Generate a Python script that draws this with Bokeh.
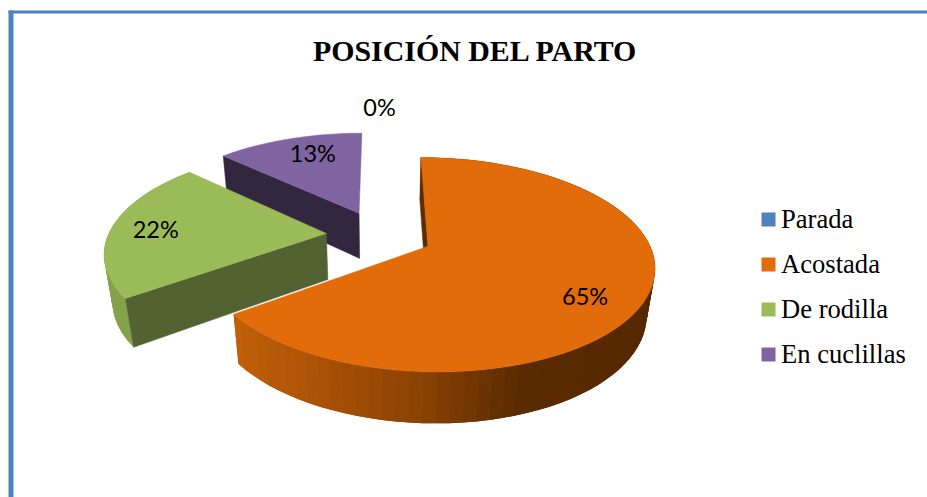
import math
from bokeh.plotting import figure
from bokeh.models import Range1d
from bokeh.core.properties import value
from bokeh.embed import file_html
from bokeh.resources import INLINE

TITLE = "POSICIÓN DEL PARTO"
CATEGORIES = ["Parada", "Acostada", "De rodilla", "En cuclillas"]
VALUES = [0, 65, 22, 13]
LABELS = ["0%", "65%", "22%", "13%"]
COLORS = ["#4F81BD", "#E26B0A", "#9BBB59", "#8064A2"]
WALLS = ["#2A4A70", "#5E2C00", "#526230", "#33263F"]
RIMS = ["#3A6090", "#8A4304", "#84A24B", None]
FRAME = "#4F81BD"

# layout of the projected pie (page pixels)
CX, CY = 379.0, 234.5
RX, RY = 218.0, 100.2
PERSP, EXPLODE = 0.168, 0.245
DEPTH, DEPTH_P = 47.5, 0.03
LABEL_R = [1.35, 0.73, 0.79, 0.78]
LABEL_OFF = [(0, -1.5), (1, 13.5), (-1, 0), (10, -0.5)]
RIM_STOPS = [(237, (0xC0, 0x60, 0x08)), (353, (0xA0, 0x4C, 0x05)), (420, (0x8A, 0x42, 0x04)),
             (520, (0x5A, 0x2B, 0x00)), (660, (0x56, 0x28, 0x00))]


def project(X, Y, lower=False):
    if lower:
        p = 1 / (1 - PERSP * Y + DEPTH_P)
        return CX + RX * X * p, CY + (RY * Y + DEPTH) * p
    p = 1 / (1 - PERSP * Y)
    return CX + RX * X * p, CY + RY * Y * p


def world(angle, r, off):
    a = math.radians(angle)
    return off[0] + r * math.sin(a), off[1] - r * math.cos(a)


def rim_color(x):
    if x <= RIM_STOPS[0][0]:
        c = RIM_STOPS[0][1]
    elif x >= RIM_STOPS[-1][0]:
        c = RIM_STOPS[-1][1]
    else:
        for (x0, c0), (x1, c1) in zip(RIM_STOPS, RIM_STOPS[1:]):
            if x0 <= x <= x1:
                t = (x - x0) / (x1 - x0)
                c = tuple(c0[i] + (c1[i] - c0[i]) * t for i in range(3))
                break
    return "#%02x%02x%02x" % tuple(int(round(v)) for v in c)


p = figure(width=927, height=497, output_backend="svg", toolbar_location=None,
           x_range=Range1d(0, 927), y_range=Range1d(497, 0), min_border=0,
           background_fill_color="white", border_fill_color="white")
p.axis.visible = False
p.grid.visible = False
p.outline_line_color = None

# frame
p.quad(left=[8, 8], right=[13, 927], top=[10, 10], bottom=[497, 13],
       fill_color=FRAME, line_color=None)

title_font = value("Liberation Serif")
p.text(x=[475], y=[49.5], text=[TITLE], text_font=title_font, text_font_size="29.9px",
       text_font_style="bold", text_align="center", text_baseline="middle", text_color="#000000")

# slices
total = sum(VALUES)
spans = []
angle = 0.0
for v in VALUES:
    sweep = 360.0 * v / total
    spans.append((angle, angle + sweep))
    angle += sweep

for i in [3, 2, 1]:
    a0, a1 = spans[i]
    mid = math.radians((a0 + a1) / 2)
    off = (EXPLODE * math.sin(mid), -EXPLODE * math.cos(mid))
    n = max(8, int((a1 - a0) / 3))
    angs = [a0 + (a1 - a0) * j / n for j in range(n + 1)]

    # outer rim: each band overlaps its neighbour, so that no seams show
    if RIMS[i] is not None:
        xs, ys, cols = [], [], []
        for j in range(n):
            s, e = angs[j], angs[min(j + 2, n)]
            ws, we = world(s, 1, off), world(e, 1, off)
            wm = world(angs[j + 1], 1, off)
            ts, tm, te = project(*ws), project(*wm), project(*we)
            ls, lm, le = project(*ws, lower=True), project(*wm, lower=True), project(*we, lower=True)
            xs.append([ts[0], tm[0], te[0], le[0], lm[0], ls[0]])
            ys.append([ts[1], tm[1], te[1], le[1], lm[1], ls[1]])
            cols.append(rim_color((ts[0] + tm[0]) / 2) if i == 1 else RIMS[i])
        p.patches(xs, ys, fill_color=cols, line_color=None)

    # visible radial wall at the slice start
    wa = world(a0, 1, off)
    t0, t1 = project(*off), project(*wa)
    b0, b1 = project(*off, lower=True), project(*wa, lower=True)
    p.patch([t0[0], t1[0], b1[0], b0[0]], [t0[1], t1[1], b1[1], b0[1]],
            fill_color=WALLS[i], line_color=WALLS[i], line_width=0.5)

    # top face
    pts = [project(*off)] + [project(*world(a, 1, off)) for a in angs]
    p.patch([q[0] for q in pts], [q[1] for q in pts],
            fill_color=COLORS[i], line_color=COLORS[i], line_width=0.5)

# percentage labels
lx, ly = [], []
for i, (a0, a1) in enumerate(spans):
    mid = (a0 + a1) / 2
    m = math.radians(mid)
    off = (EXPLODE * math.sin(m), -EXPLODE * math.cos(m))
    q = project(*world(mid, LABEL_R[i], off))
    lx.append(q[0] + LABEL_OFF[i][0])
    ly.append(q[1] + LABEL_OFF[i][1])
p.text(x=lx, y=ly, text=LABELS, text_font=value("Lato"), text_font_size="23.5px",
       text_align="center", text_baseline="middle", text_color="#000000")

# legend
LEG_Y0, LEG_STEP = 219, 45
leg_y = [LEG_Y0 + LEG_STEP * i for i in range(len(CATEGORIES))]
p.scatter(x=[768] * 4, y=leg_y, marker="square", size=14, fill_color=COLORS, line_color=None)
p.text(x=[780.5] * 4, y=[v - 1 for v in leg_y], text=CATEGORIES, text_font=title_font,
       text_font_size="26.6px", text_align="left", text_baseline="middle", text_color="#000000")

open("out.html", "w").write(file_html(p, INLINE))
